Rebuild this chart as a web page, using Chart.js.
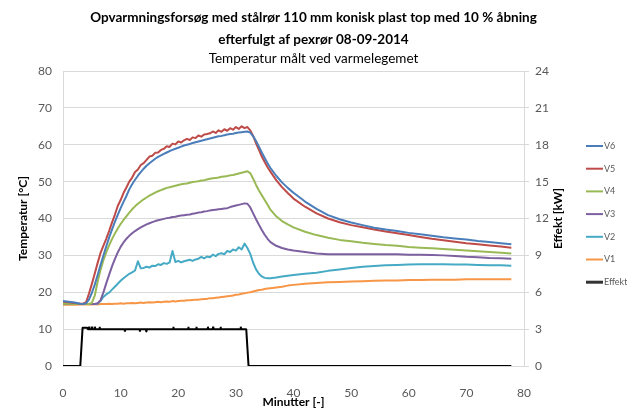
<!DOCTYPE html>
<html>
<head>
<meta charset="utf-8">
<script src="https://cdn.jsdelivr.net/npm/chart.js@4.4.1/dist/chart.umd.min.js"></script>
<style>
  html, body { margin: 0; padding: 0; background: #ffffff; }
  #wrap { width: 627px; height: 412px; }
</style>
</head>
<body>
<div id="wrap"><canvas id="c" width="627" height="412"></canvas></div>
<script>
// ---- Data ----
const minutter = [
  0, 1, 2, 3, 3.5, 4, 4.5, 5, 5.5, 6,
  6.5, 7, 7.5, 8, 8.5, 9, 9.5, 10, 10.5, 11,
  11.5, 12, 12.5, 13, 13.5, 14, 14.5, 15, 15.5, 16,
  16.5, 17, 17.5, 18, 18.5, 19, 19.5, 20, 20.5, 21,
  21.5, 22, 22.5, 23, 23.5, 24, 24.5, 25, 25.5, 26,
  26.5, 27, 27.5, 28, 28.5, 29, 29.5, 30, 30.5, 31,
  31.5, 32, 32.5, 33, 33.5, 34, 34.5, 35, 35.5, 36,
  37, 38, 39, 40, 42, 44, 46, 48, 50, 52,
  54, 56, 58, 60, 62, 64, 66, 68, 70, 72,
  74, 76, 77.8
];
const V6 = [
  17.6, 17.4, 17.2, 16.9, 16.8, 17.0, 18.0, 19.8, 22.0, 24.6,
  27.3, 29.9, 32.4, 34.8, 37.0, 39.1, 41.0, 42.8, 44.5, 46.1,
  47.9, 49.3, 50.5, 51.6, 52.6, 53.5, 54.3, 55.0, 55.6, 56.2,
  56.7, 57.1, 57.5, 57.9, 58.3, 58.6, 58.9, 59.2, 59.5, 59.8,
  60.0, 60.2, 60.5, 60.7, 60.9, 61.1, 61.3, 61.5, 61.7, 61.9,
  62.1, 62.3, 62.4, 62.6, 62.8, 62.9, 63.0, 63.2, 63.3, 63.4,
  63.5, 63.6, 63.3, 62.3, 61.0, 59.5, 57.9, 56.4, 55.0, 53.7,
  51.6, 49.8, 48.3, 47.0, 44.6, 42.6, 40.9, 39.8, 38.9, 38.2,
  37.5, 37.0, 36.6, 36.1, 35.7, 35.3, 34.9, 34.6, 34.3, 33.9,
  33.6, 33.3, 33.0
];
const V5 = [
  17.4, 17.3, 17.1, 16.9, 16.9, 17.3, 19.6, 22.2, 25.0, 27.9,
  30.6, 32.6, 34.5, 36.6, 38.9, 41.0, 43.4, 45.0, 46.9, 48.4,
  50.0, 51.1, 52.6, 53.3, 54.5, 55.0, 55.9, 56.8, 57.0, 57.8,
  57.9, 58.6, 58.9, 59.6, 59.4, 60.3, 60.1, 60.9, 60.6, 61.2,
  61.6, 61.3, 62.0, 61.8, 62.5, 62.2, 62.8, 62.9, 63.1, 63.6,
  63.2, 63.9, 63.5, 64.2, 63.8, 64.5, 64.1, 64.8, 64.3, 65.0,
  64.5, 64.8, 63.9, 62.4, 60.4, 58.6, 56.8, 55.3, 53.9, 52.7,
  50.4, 48.5, 46.9, 45.4, 43.2, 41.4, 40.0, 39.0, 38.2, 37.6,
  37.0, 36.5, 36.0, 35.5, 35.0, 34.5, 34.1, 33.7, 33.3, 33.0,
  32.7, 32.4, 32.1
];
const V4 = [
  16.9, 16.9, 16.8, 16.8, 16.8, 16.8, 16.8, 17.1, 19.0, 22.8,
  26.0, 28.6, 30.8, 32.7, 34.4, 35.9, 37.3, 38.5, 39.6, 40.6,
  41.6, 42.5, 43.3, 44.0, 44.6, 45.2, 45.7, 46.2, 46.6, 47.0,
  47.4, 47.7, 48.0, 48.3, 48.5, 48.7, 48.9, 49.1, 49.3, 49.4,
  49.5, 49.7, 49.9, 50.0, 50.1, 50.3, 50.4, 50.6, 50.8, 50.9,
  51.0, 51.1, 51.3, 51.4, 51.5, 51.7, 51.8, 52.0, 52.2, 52.4,
  52.6, 52.8, 52.3, 50.8, 49.1, 47.6, 46.3, 45.0, 43.7, 42.4,
  40.6, 39.3, 38.4, 37.6, 36.4, 35.5, 34.8, 34.2, 33.8, 33.4,
  33.1, 32.8, 32.6, 32.3, 32.1, 31.9, 31.7, 31.5, 31.3, 31.1,
  30.9, 30.7, 30.5
];
const V3 = [
  16.8, 16.8, 16.8, 16.8, 16.8, 16.8, 16.8, 16.8, 16.8, 17.0,
  17.8, 19.9, 22.4, 24.7, 27.0, 29.0, 30.8, 32.3, 33.5, 34.5,
  35.3, 36.0, 36.6, 37.1, 37.6, 38.0, 38.4, 38.7, 39.0, 39.3,
  39.5, 39.7, 39.9, 40.1, 40.2, 40.4, 40.5, 40.7, 40.8, 40.9,
  41.0, 41.1, 41.3, 41.4, 41.6, 41.7, 41.9, 42.0, 42.2, 42.3,
  42.4, 42.5, 42.6, 42.7, 42.8, 43.1, 43.3, 43.5, 43.7, 43.9,
  44.1, 44.0, 43.0, 41.4, 39.8, 38.3, 36.9, 35.6, 34.5, 33.6,
  32.6, 32.0, 31.6, 31.3, 30.9, 30.5, 30.3, 30.3, 30.3, 30.3,
  30.3, 30.3, 30.3, 30.2, 30.2, 30.1, 30.0, 29.8, 29.6, 29.5,
  29.3, 29.2, 29.1
];
const V2 = [
  16.9, 16.9, 16.8, 16.8, 16.8, 16.8, 16.8, 16.8, 16.8, 16.9,
  17.6, 18.7, 19.4, 19.9, 20.7, 21.5, 22.3, 23.1, 23.8, 24.4,
  25.0, 25.4, 25.9, 28.4, 26.5, 26.6, 26.9, 26.7, 27.2, 27.1,
  27.6, 27.4, 27.9, 27.7, 28.1, 31.2, 28.2, 28.5, 28.1, 28.4,
  28.6, 28.8, 28.5, 28.9, 29.1, 29.6, 29.2, 29.7, 29.5, 30.2,
  29.8, 30.4, 30.6, 30.3, 31.2, 30.9, 31.6, 31.3, 32.2, 31.6,
  33.2, 32.0, 30.4, 28.0, 26.2, 25.0, 24.3, 23.9, 23.8, 23.8,
  24.0, 24.3, 24.5, 24.7, 25.0, 25.3, 25.8, 26.2, 26.6, 26.9,
  27.1, 27.3, 27.4, 27.5, 27.6, 27.6, 27.6, 27.5, 27.5, 27.4,
  27.3, 27.3, 27.2
];
const V1 = [
  16.6, 16.6, 16.6, 16.7, 16.7, 16.7, 16.7, 16.7, 16.8, 16.7,
  16.8, 16.8, 16.8, 16.9, 16.8, 16.9, 16.9, 17.0, 16.9, 17.0,
  17.0, 17.1, 17.0, 17.1, 17.2, 17.1, 17.2, 17.3, 17.2, 17.3,
  17.4, 17.3, 17.4, 17.5, 17.4, 17.6, 17.5, 17.6, 17.7, 17.7,
  17.8, 17.8, 17.9, 18.0, 18.0, 18.1, 18.2, 18.2, 18.4, 18.4,
  18.5, 18.6, 18.7, 18.8, 18.9, 19.0, 19.1, 19.3, 19.4, 19.6,
  19.7, 19.9, 20.0, 20.2, 20.4, 20.6, 20.7, 20.9, 21.0, 21.1,
  21.3, 21.5, 21.8, 22.0, 22.3, 22.5, 22.7, 22.8, 22.9, 23.0,
  23.1, 23.2, 23.2, 23.3, 23.3, 23.4, 23.4, 23.4, 23.5, 23.5,
  23.5, 23.5, 23.5
];
const effektTid = [
  0, 3.0, 3.4, 4.2, 4.3,
  4.5, 4.55, 4.6,
  5.0, 5.05, 5.1,
  5.5, 5.55, 5.6,
  6.3, 6.35, 6.4,
  10.7, 10.75, 10.8,
  13.3, 13.35, 13.4,
  14.4, 14.45, 14.5,
  19.1, 19.15, 19.2,
  21.7, 21.75, 21.8,
  23.1, 23.15, 23.2,
  25.1, 25.15, 25.2,
  26.0, 26.05, 26.1,
  27.3, 27.35, 27.4,
  30.8, 30.85, 30.9,
  31.8, 32.2, 77.8
];
const effektKW = [
  0, 0, 3.12, 3.12, 3.0,
  3.0, 3.2, 3.0,
  3.0, 3.2, 3.0,
  3.0, 3.2, 3.0,
  3.0, 3.2, 3.0,
  3.0, 2.8, 3.0,
  3.0, 2.8, 3.0,
  3.0, 2.8, 3.0,
  3.0, 3.2, 3.0,
  3.0, 3.2, 3.0,
  3.0, 3.2, 3.0,
  3.0, 3.2, 3.0,
  3.0, 3.2, 3.0,
  3.0, 3.2, 3.0,
  3.0, 3.2, 3.0,
  3.0, 0, 0
];
const tempTicks = [0, 10, 20, 30, 40, 50, 60, 70, 80];
const effektTicks = [0, 3, 6, 9, 12, 15, 18, 21, 24];
const titleLines = ['Opvarmningsforsøg med stålrør 110 mm konisk plast top med 10 % åbning', 'efterfulgt af pexrør 08-09-2014'];
const subtitleText = 'Temperatur målt ved varmelegemet';
const seriesNames = ['V6', 'V5', 'V4', 'V3', 'V2', 'V1'];
const seriesColors = ['#4a7ebb', '#be4b48', '#98b954', '#7d60a0', '#46aac5', '#f79646'];

// ---- Build datasets ----
const tempSeries = [V6, V5, V4, V3, V2, V1];
const datasets = tempSeries.map((vals, i) => ({
  label: seriesNames[i],
  data: vals.map((v, k) => ({ x: minutter[k], y: v })),
  borderColor: seriesColors[i],
  backgroundColor: seriesColors[i],
  borderWidth: 2,
  borderJoinStyle: 'round',
  pointRadius: 0,
  tension: 0,
  yAxisID: 'y'
}));
datasets.push({
  label: 'Effekt',
  data: effektKW.map((v, k) => ({ x: effektTid[k], y: v })),
  borderColor: '#000000',
  backgroundColor: '#000000',
  borderWidth: 2,
  borderJoinStyle: 'bevel',
  pointRadius: 0,
  tension: 0,
  yAxisID: 'y2'
});

const FONT = 'Lato, "Liberation Sans", sans-serif';
const GRID = '#d9d9d9';
const TICK = '#595959';

const sidePlugin = {
  id: 'sideLegend',
  afterDraw(chart) {
    const ctx = chart.ctx;
    const area = chart.chartArea;
    ctx.save();
    chart.data.datasets.forEach((ds, i) => {
      const y = 146 + i * 22.7;
      ctx.beginPath();
      ctx.strokeStyle = ds.label === 'Effekt' ? '#333333' : ds.borderColor;
      ctx.lineWidth = ds.label === 'Effekt' ? 3 : 2;
      ctx.moveTo(586, y);
      ctx.lineTo(603, y);
      ctx.stroke();
      ctx.fillStyle = TICK;
      ctx.font = '9px ' + FONT;
      ctx.textBaseline = 'middle';
      ctx.textAlign = 'left';
      ctx.fillText(ds.label, 604, y);
    });
    // right axis title, reading bottom-to-top
    ctx.translate(558, (area.top + area.bottom) / 2);
    ctx.rotate(-Math.PI / 2);
    ctx.fillStyle = '#000000';
    ctx.font = 'bold 12px ' + FONT;
    ctx.textAlign = 'center';
    ctx.textBaseline = 'middle';
    ctx.fillText('Effekt [kW]', 0, 0);
    ctx.restore();
  }
};

new Chart(document.getElementById('c'), {
  type: 'line',
  data: { datasets },
  plugins: [sidePlugin],
  options: {
    responsive: false,
    animation: false,
    devicePixelRatio: 1,
    layout: { padding: { left: 0, right: 0, top: 0, bottom: 0 } },
    plugins: {
      legend: { display: false },
      tooltip: { enabled: false },
      title: {
        display: true,
        text: titleLines,
        color: '#000000',
        font: { family: FONT, size: 13.5, weight: 'bold', lineHeight: '22px' },
        padding: { top: 7, bottom: 0 }
      },
      subtitle: {
        display: true,
        text: subtitleText,
        color: '#000000',
        font: { family: FONT, size: 13.5, weight: 'normal', lineHeight: '16px' },
        padding: { top: 0, bottom: 4 }
      }
    },
    scales: {
      x: {
        type: 'linear',
        min: 0, max: 80,
        afterBuildTicks: (s) => { s.ticks = tempTicks.map(v => ({ value: v })); },
        grid: { display: false },
        border: { display: true, color: GRID },
        ticks: { color: TICK, font: { family: FONT, size: 12 }, padding: 12, maxRotation: 0 },
        title: { display: true, text: 'Minutter [-]', color: '#000000', font: { family: FONT, size: 12, weight: 'bold' }, padding: { top: 0, bottom: 3 } },
        afterFit: (s) => { s.height = 46; }
      },
      y: {
        position: 'left',
        min: 0, max: 80,
        afterBuildTicks: (s) => { s.ticks = tempTicks.map(v => ({ value: v })); },
        grid: { color: GRID, drawTicks: false, lineWidth: 1 },
        border: { display: true, color: GRID },
        ticks: { color: TICK, font: { family: FONT, size: 12 }, padding: 11 },
        title: { display: true, text: 'Temperatur [°C]', color: '#000000', font: { family: FONT, size: 12, weight: 'bold' }, padding: { top: 16, bottom: 0 } },
        afterFit: (s) => { s.width = 63; }
      },
      y2: {
        position: 'right',
        min: 0, max: 24,
        afterBuildTicks: (s) => { s.ticks = effektTicks.map(v => ({ value: v })); },
        grid: { drawOnChartArea: false, drawTicks: true, tickLength: 5, color: GRID },
        border: { display: true, color: GRID },
        ticks: { color: TICK, font: { family: FONT, size: 12 }, padding: 6 },
        afterFit: (s) => { s.width = 103; }
      }
    }
  }
});
</script>
</body>
</html>
